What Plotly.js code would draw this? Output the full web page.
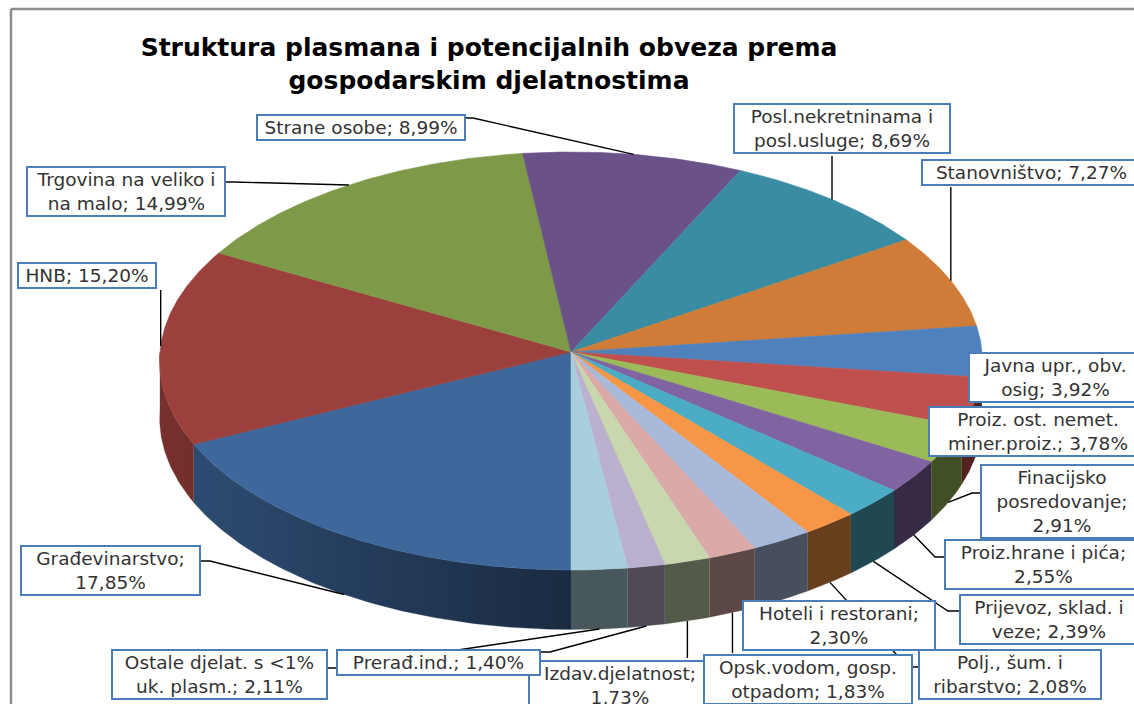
<!DOCTYPE html>
<html><head><meta charset="utf-8">
<script src="https://cdn.plot.ly/plotly-3.0.1.min.js"></script>
<style>html,body{margin:0;padding:0;background:#fff}#chart{width:1134px;height:704px}</style>
</head><body><div id="chart"></div>
<script>
// ---- data (clockwise from 6 o'clock) ----
const categories = ['Građevinarstvo','HNB','Trgovina na veliko i na malo','Strane osobe',
  'Posl.nekretninama i posl.usluge','Stanovništvo','Javna upr., obv. osig',
  'Proiz. ost. nemet. miner.proiz.','Finacijsko posredovanje','Proiz.hrane i pića',
  'Prijevoz, sklad. i veze','Polj., šum. i ribarstvo','Hoteli i restorani',
  'Opsk.vodom, gosp. otpadom','Izdav.djelatnost','Prerađ.ind.','Ostale djelat. s <1% uk. plasm.'];
const shares = [17.85,15.20,14.99,8.99,8.69,7.27,3.92,3.78,2.91,2.55,2.39,2.08,2.30,1.83,1.73,1.40,2.11];
const colors = ['#3E679B','#9C403D','#7E9A48','#6A5289','#3A8CA2','#CF7C38','#4F81BD','#C0504D',
  '#9BBB59','#8064A2','#4BACC6','#F79646','#A9B9DA','#DAA9A8','#C8D7AD','#BBB0CD','#A9CEDC'];

// ---- layout geometry (pixels) ----
const CX=571, CY=352, RX=411, RY=208.6, PERSP=0.043, DEPTH=57, START=180;
function proj(deg, bottom){
  const t=deg*Math.PI/180, u=Math.sin(t), v=-Math.cos(t), w=1-PERSP*v;
  return [CX+RX*u/w, CY+(RY*v+(bottom?DEPTH:0))/w];
}
function shade(hex,f){
  const n=parseInt(hex.slice(1),16);
  const r=Math.round(((n>>16)&255)*f), g=Math.round(((n>>8)&255)*f), b=Math.round((n&255)*f);
  return 'rgb('+r+','+g+','+b+')';
}
function sideFactor(deg){const u=Math.sin(deg*Math.PI/180); return u<0?0.44-0.32*u:0.42;}
const total=shares.reduce((a,b)=>a+b,0);
let acc=START;
const arcs=shares.map(s=>{const a1=acc; acc+=s/total*360; return [a1,acc];});

const traces=[];
// side walls (front half), one polygon per slice with a horizontal gradient
arcs.forEach(([a1,a2],i)=>{
  [0,360].forEach(off=>{
    const lo=Math.max(a1,90+off), hi=Math.min(a2,270+off);
    if(hi<=lo) return;
    const n=Math.max(4,Math.ceil((hi-lo)/0.5));
    const xs=[],ys=[];
    for(let j=0;j<=n;j++){const p=proj(lo+(hi-lo)*j/n,false);xs.push(p[0]);ys.push(p[1]);}
    for(let j=n;j>=0;j--){const p=proj(lo+(hi-lo)*j/n,true);xs.push(p[0]);ys.push(p[1]);}
    const cLo=shade(colors[i],sideFactor(lo)), cHi=shade(colors[i],sideFactor(hi));
    // left-to-right on screen
    const xl=proj(lo,false)[0], xh=proj(hi,false)[0];
    const cLeft = xl<xh?cLo:cHi, cRight = xl<xh?cHi:cLo;
    const cMid=shade(colors[i],sideFactor((lo+hi)/2));
    traces.push({type:'scatter',mode:'lines',x:xs,y:ys,fill:'toself',fillcolor:cMid,
      fillgradient:{type:'horizontal',colorscale:[[0,cLeft],[1,cRight]]},
      line:{color:cMid,width:0.3},hoverinfo:'skip',showlegend:false});
  });
});
// top surface
arcs.forEach(([a1,a2],i)=>{
  const xs=[CX],ys=[CY];
  const n=Math.max(2,Math.ceil((a2-a1)/0.5));
  for(let j=0;j<=n;j++){const p=proj(a1+(a2-a1)*j/n,false);xs.push(p[0]);ys.push(p[1]);}
  xs.push(CX);ys.push(CY);
  traces.push({type:'scatter',mode:'lines',x:xs,y:ys,fill:'toself',fillcolor:colors[i],
    line:{color:colors[i],width:0.6},name:categories[i],hoverinfo:'name',showlegend:false});
});

// ---- label boxes: [x0,y0,x1,y1], leader type, attach y / elbow, line-break tokens ----
const boxes = [
  {b:[20,543,199,598], t:'right', ay:561, e:11, br:['17,85%']},
  {b:[17,260,155,290], t:'vbottom', br:[]},
  {b:[26,165,224,218], t:'right', ay:182, e:10, br:['na malo']},
  {b:[256,113,464,142], t:'right', ay:118, e:9, br:[]},
  {b:[733,101,949,156], t:'vbottom', br:['posl.usluge']},
  {b:[921,157,1140,187], t:'vbottom', br:[]},
  {b:[968,352,1140,402], t:'none', br:['osig']},
  {b:[928,404,1146,458], t:'none', br:['miner']},
  {b:[980,463,1142,539], t:'left', ay:493, e:8, br:['posredovanje','2,91%']},
  {b:[944,538,1141,591], t:'left', ay:557, e:9, br:['2,55%']},
  {b:[959,593,1137,646], t:'left', ay:611, e:11, br:['veze']},
  {b:[918,648,1100,701], t:'left', ay:667, e:10, br:['ribarstvo']},
  {b:[742,598,934,652], t:'none', br:['2,30%']},
  {b:[703,653,911,706], t:'vtop', br:['otpadom']},
  {b:[528,658,710,712], t:'vtop', br:['1,73%']},
  {b:[336,647,539,677], t:'right', ay:652, e:11, br:[]},
  {b:[111,647,326,701], t:'right', ay:668, e:10, br:['uk.']}
];

function esc(s){return s.replace(/&/g,'&amp;').replace(/</g,'&lt;').replace(/>/g,'&gt;');}
function wrap(s,tokens){
  tokens.forEach(tk=>{const i=s.indexOf(' '+tk); if(i>=0) s=s.slice(0,i)+'\n'+s.slice(i+1);});
  return s;
}
const pctText = shares.map(v=>v.toFixed(2).replace('.',',')+'%');

const annotations=[];
const order=[0,1,2,3,4,5,6,7,8,9,10,12,11,14,13,15,16];
order.forEach(i=>{
  const bx=boxes[i], [x0,y0,x1,y1]=bx.b;
  const mid=(arcs[i][0]+arcs[i][1])/2;
  const v=-Math.cos(mid*Math.PI/180);
  const tgt=proj(mid, v>0.2);
  let lx=null,ly=null;
  if(bx.t==='right'){lx=[x1,x1+bx.e,tgt[0]];ly=[bx.ay,bx.ay,tgt[1]];}
  else if(bx.t==='left'){lx=[x0,x0-bx.e,tgt[0]];ly=[bx.ay,bx.ay,tgt[1]];}
  else if(bx.t==='vbottom'){lx=[tgt[0],tgt[0]];ly=[y1,tgt[1]];}
  else if(bx.t==='vtop'){lx=[tgt[0],tgt[0]];ly=[y0,tgt[1]];}
  if(lx) traces.push({type:'scatter',mode:'lines',x:lx,y:ly,line:{color:'#000',width:1.4},
    hoverinfo:'skip',showlegend:false});
  const txt=esc(wrap(categories[i]+'; '+pctText[i],bx.br)).replace(/\n/g,'<br>');
  annotations.push({xref:'x',yref:'y',x:x0,y:(y0+y1)/2,xanchor:'left',yanchor:'middle',showarrow:false,
    text:txt,width:x1-x0-4,borderpad:1,borderwidth:2,bordercolor:'#4A7EBB',
    bgcolor:'#ffffff',align:'center',valign:'middle',
    font:{family:'DejaVu Sans',size:18.5,color:'#333333'}});
});

const layout={
  width:1134,height:704,margin:{l:0,r:0,t:0,b:0},
  paper_bgcolor:'#ffffff',plot_bgcolor:'#ffffff',showlegend:false,
  title:{text:'Struktura plasmana i potencijalnih obveza prema<br>gospodarskim djelatnostima',
    x:489/1134,xanchor:'center',y:1-56/704,yanchor:'top',
    font:{family:'DejaVu Sans',size:25,color:'#000000',weight:700}},
  xaxis:{range:[0,1134],visible:false,fixedrange:true},
  yaxis:{range:[704,0],visible:false,fixedrange:true},
  shapes:[
    {type:'line',xref:'x',yref:'y',x0:11,y0:9,x1:1134,y1:9,line:{color:'#8C8C8C',width:2.5}},
    {type:'line',xref:'x',yref:'y',x0:11,y0:9,x1:11,y1:704,line:{color:'#8C8C8C',width:2.5}}
  ],
  annotations:annotations
};
Plotly.newPlot('chart',traces,layout,{staticPlot:true,displayModeBar:false});
</script></body></html>
